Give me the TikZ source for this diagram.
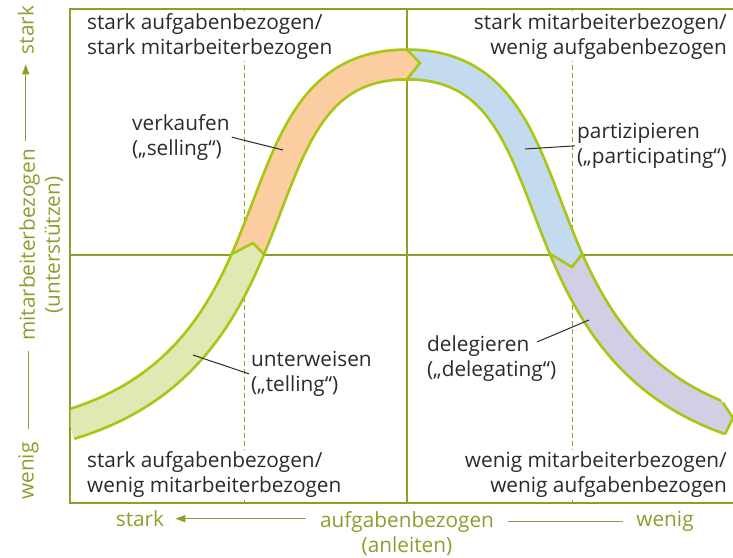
\documentclass[tikz,border=0pt]{standalone}
\usepackage{fontspec}
\setmainfont{Open Sans}
\usetikzlibrary{arrows.meta,calc}
\definecolor{slOlive}{HTML}{8C9E2E}
\definecolor{slLime}{HTML}{A8C714}
\definecolor{slGreen}{HTML}{E0E8B4}
\definecolor{slOrange}{HTML}{FCCDA0}
\definecolor{slBlue}{HTML}{C4DAEE}
\definecolor{slViolet}{HTML}{D3CDE6}
\definecolor{slInk}{HTML}{2B2B2B}
\newcommand\slBand{(70,424.5) .. controls (315,351) and (227,64.5) .. (407,64.5)
  .. controls (587,64.5) and (499,351) .. (744,424.5)}
\tikzset{
  >={Triangle[length=10pt,width=7pt]},
  quad/.style={font=\fontsize{20.8}{25}\selectfont, text=slInk, fill=white, inner sep=2pt},
  lbl/.style={font=\fontsize{20.8}{25}\selectfont, text=slInk, align=left, inner sep=2pt},
  axis/.style={font=\fontsize{20.8}{25}\selectfont, text=slOlive, align=center, inner sep=2pt},
  frame/.style={draw=slOlive, line width=1.2pt},
  guide/.style={draw=slOlive, line width=0.9pt, dash pattern=on 5pt off 3pt},
  axisline/.style={draw=slOlive, line width=1pt},
  chev/.style={draw=slLime, line width=2.6pt},
  leader/.style={draw=slInk, line width=1pt},
}
\begin{document}
\begin{tikzpicture}[x=1pt,y=-1pt]
  \useasboundingbox (0,0) rectangle (733,557);
  % chevron corners on the band
  \coordinate (c1l) at (231.8,254); \coordinate (c1t) at (253,243); \coordinate (c1r) at (263.8,254);
  \coordinate (c2l) at (407,49.75); \coordinate (c2t) at (420,63); \coordinate (c2r) at (407,79.25);
  \coordinate (c3l) at (550.2,254); \coordinate (c3t) at (572,267); \coordinate (c3r) at (582.2,254);
  \coordinate (c4l) at (723,402.8); \coordinate (c4t) at (733,418); \coordinate (c4r) at (725,434.2);
  % dashed guides
  \foreach \x in {244,572}{
    \draw[guide] (\x,9) -- (\x,503);}
  % quadrant texts
  \node[quad,anchor=north west,align=left] (qtl) at (85,11) {stark aufgabenbezogen/\\stark mitarbeiterbezogen};
  \node[quad,anchor=north east,align=right] (qtr) at (729,11) {stark mitarbeiterbezogen/\\wenig aufgabenbezogen};
  \node[quad,anchor=south west,align=left] (qbl) at (85,500) {stark aufgabenbezogen/\\wenig mitarbeiterbezogen};
  \node[quad,anchor=south east,align=right] (qbr) at (729,500) {wenig mitarbeiterbezogen/\\wenig aufgabenbezogen};
  % frame and quadrant lines
  \draw[frame] (733,9) -- (70,9) -- (70,503) -- (733,503);
  \draw[frame] (70,255) -- (733,255) (407,9) -- (407,503);
  % the band, one colour per style
  \begin{scope}
    \clip (70.6,0) -- (700,0) -- ($(c4t)!2!(c4l)$) -- (c4t) -- ($(c4t)!2!(c4r)$) -- (700,557) -- (70.6,557) -- cycle;
    \draw[slLime,line width=32.5pt] \slBand;
    \begin{scope}
      \clip (60,560) -- (60,254) -- (c1l) -- (c1t) -- (c1r) -- (407,254) -- (407,560) -- cycle;
      \draw[slGreen,line width=27pt] \slBand;
    \end{scope}
    \begin{scope}
      \clip (60,0) -- (407,0) -- (c2l) -- (c2t) -- (c2r) -- (407,254) -- (c1r) -- (c1t) -- (c1l) -- (60,254) -- cycle;
      \draw[slOrange,line width=27pt] \slBand;
    \end{scope}
    \begin{scope}
      \clip (407,0) -- (760,0) -- (760,254) -- (c3r) -- (c3t) -- (c3l) -- (407,254) -- (c2r) -- (c2t) -- (c2l) -- cycle;
      \draw[slBlue,line width=27pt] \slBand;
    \end{scope}
    \begin{scope}
      \clip (407,560) -- (407,254) -- (c3l) -- (c3t) -- (c3r) -- (760,254) -- (760,560) -- cycle;
      \draw[slViolet,line width=27pt] \slBand;
    \end{scope}
  \end{scope}
  \draw[chev] (c1l) -- (c1t) -- (c1r);
  \draw[chev] (c2l) -- (c2t) -- (c2r);
  \draw[chev] (c3l) -- (c3t) -- (c3r);
  \draw[chev] (c4l) -- (c4t) -- (c4r);
  % style labels
  \node[lbl,anchor=north west] (sell) at (130,112) {verkaufen\\(„selling“)};
  \node[lbl,anchor=north west] (part) at (575,121) {partizipieren\\(„participating“)};
  \node[lbl,anchor=north west] (tell) at (249,349) {unterweisen\\(„telling“)};
  \node[lbl,anchor=north west] (dele) at (425,333) {delegieren\\(„delegating“)};
  \coordinate (sellpt) at (283,150);
  \coordinate (partpt) at (525,149);
  \coordinate (tellpt) at (193,355);
  \coordinate (delept) at (589,320);
  \draw[leader] (sell.east) -- (sellpt);
  \draw[leader] (part.west) -- (partpt);
  \draw[leader] (tell.west) -- (tellpt);
  \draw[leader] ($(dele.north west)+(112,9)$) -- (delept);
  % axes
  \node[axis] (hlab) at (407,534) {aufgabenbezogen\\(anleiten)};
  \node[axis,anchor=base] (hstark) at (140,526.5) {stark};
  \node[axis,anchor=base] (hwenig) at (665,526.5) {wenig};
  \draw[axisline,->,shorten <=12pt,shorten >=9pt] (hlab.west |- hstark.east) -- (hstark.east);
  \draw[axisline,shorten <=12pt,shorten >=11pt] (hlab.east |- hwenig.west) -- (hwenig.west);
  \node[axis,rotate=90] (vlab) at (41,245) {mitarbeiterbezogen\\(unterstützen)};
  \node[axis,rotate=90,anchor=base] (vstark) at (33.5,30) {stark};
  \node[axis,rotate=90,anchor=base] (vwenig) at (33.5,471) {wenig};
  \draw[axisline,->,shorten <=6pt,shorten >=8pt] (vstark.west |- vlab.east) -- (vstark.west);
  \draw[axisline,shorten <=8pt,shorten >=11pt] (vwenig.east |- vlab.west) -- (vwenig.east);
\end{tikzpicture}
\end{document}
